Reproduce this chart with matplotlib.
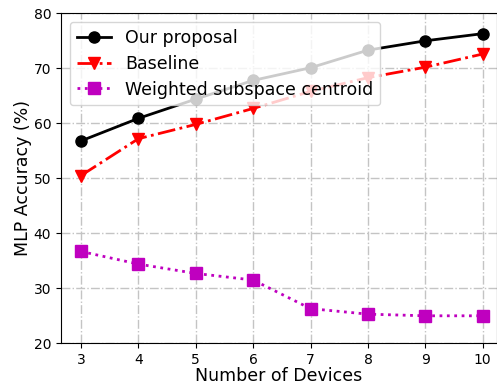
import matplotlib
matplotlib.use('Agg')
import matplotlib.pyplot as plt

devices = [3, 4, 5, 6, 7, 8, 9, 10]
ours = [56.8, 60.9, 64.4, 67.8, 70.1, 73.3, 75.0, 76.3]
baseline = [50.5, 57.2, 59.8, 62.7, 65.8, 68.3, 70.2, 72.6]
weighted = [36.7, 34.4, 32.7, 31.5, 26.3, 25.3, 25.0, 25.0]

fig = plt.figure(figsize=(4.97, 3.84), dpi=100)
ax = fig.add_axes([61 / 497, 40.7 / 384, 435.5 / 497, 330 / 384])

ax.plot(devices, ours, 'k-', marker='o', markersize=8, linewidth=2, label='Our proposal')
ax.plot(devices, baseline, 'r-.', marker='v', markersize=9, linewidth=2, label='Baseline')
ax.plot(devices, weighted, 'm:', marker='s', markersize=8, linewidth=2, label='Weighted subspace centroid')

ax.set_xlim(2.651, 10.24)
ax.set_ylim(20, 80)
ax.set_xticks(devices)
ax.tick_params(labelsize=10)
ax.grid(True, linestyle='-.', color='#c4c4c4', linewidth=1)
ax.set_xlabel('Number of Devices', fontsize=12.5, labelpad=0)
ax.set_ylabel('MLP Accuracy (%)', fontsize=12.5, labelpad=1)
ax.legend(loc='upper left', fontsize=12.5, labelspacing=0.45)

fig.savefig('out.png', dpi=100)
